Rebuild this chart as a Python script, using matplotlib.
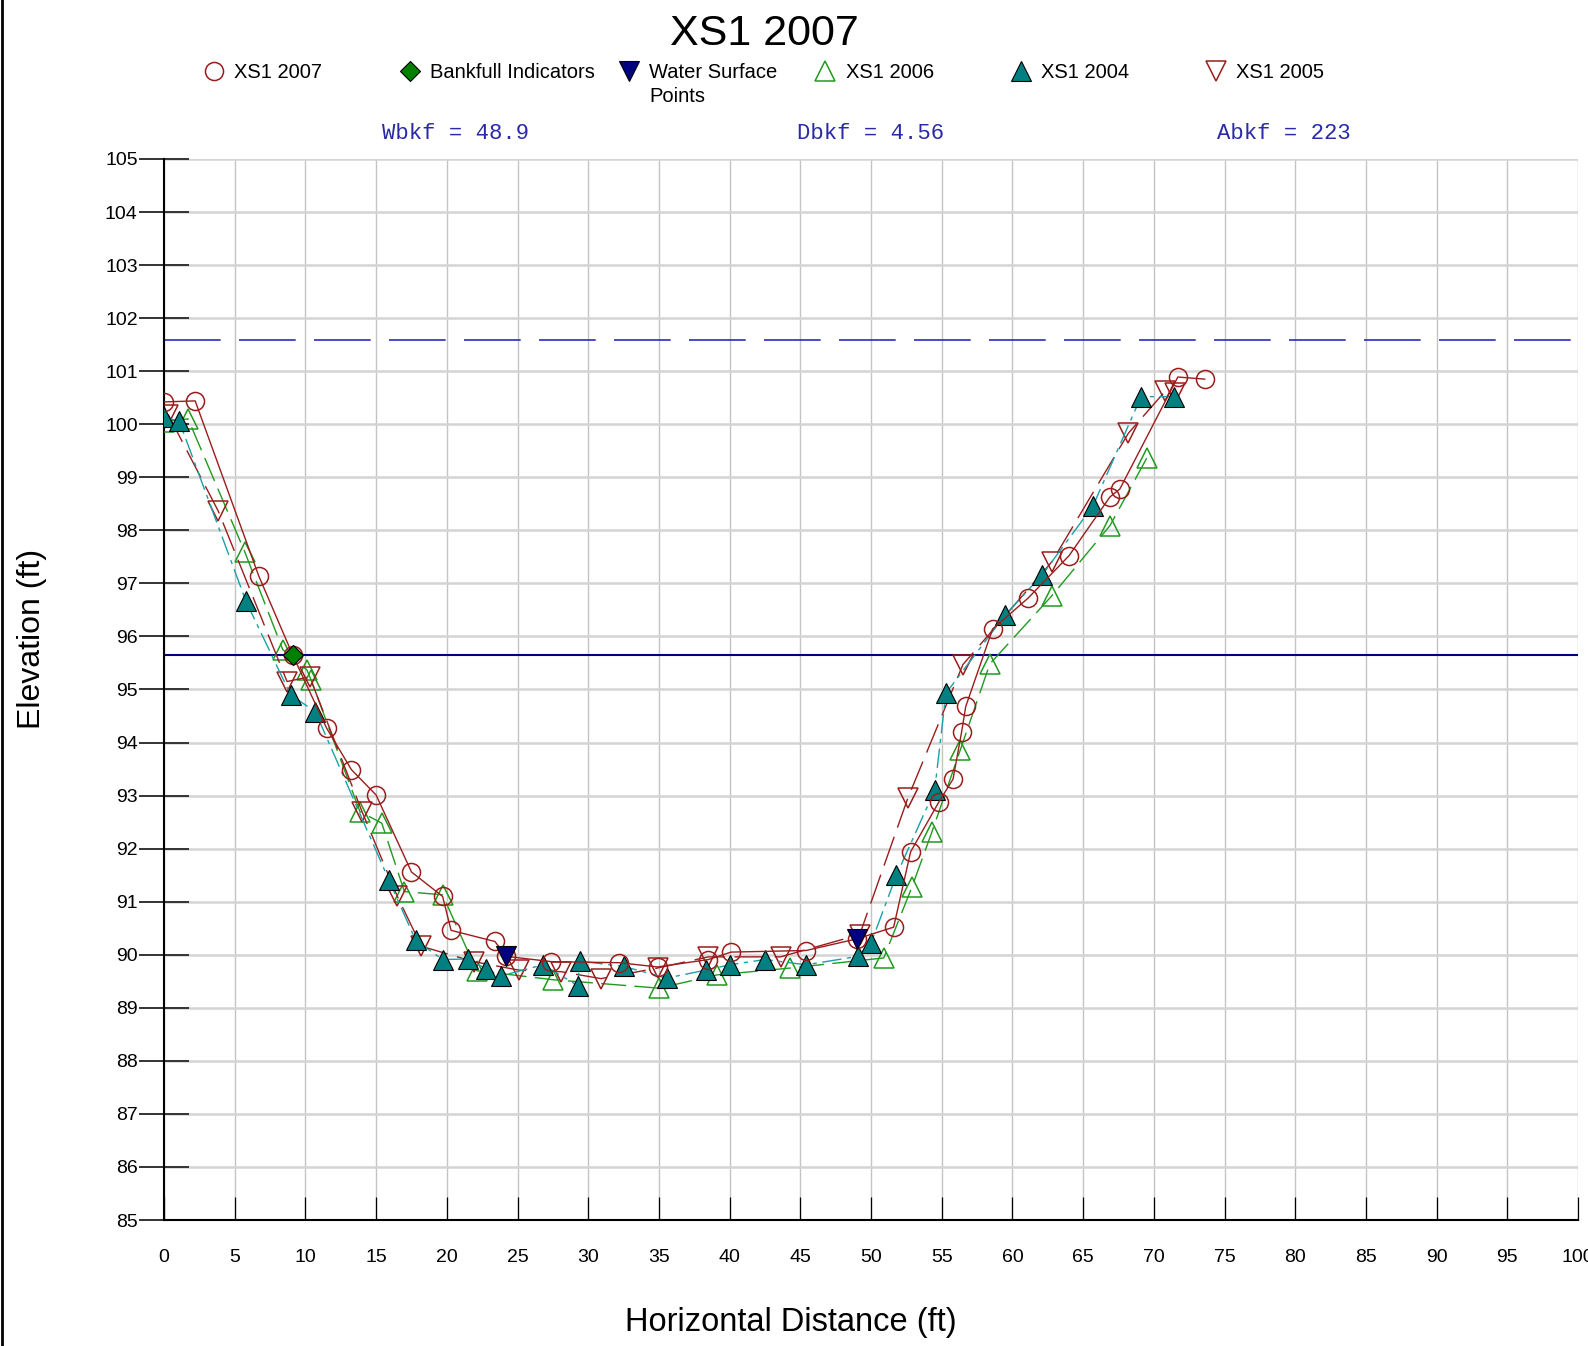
import matplotlib
matplotlib.use("Agg")
from matplotlib import pyplot as plt
from matplotlib.lines import Line2D
import numpy as np

# Cross section survey data (distance ft, elevation ft)

xs2007_x = [0, 2.2, 6.7, 9.1, 11.5, 13.25, 15.0, 17.5, 19.7, 20.3, 23.4, 24.2, 27.4, 32.2,
            34.9, 38.5, 40.1, 45.4, 49.0, 51.6, 52.8, 54.8, 55.8, 56.4, 56.7, 58.6, 61.1,
            64.0, 66.9, 67.6, 71.7, 73.6]
xs2007_y = [100.42, 100.44, 97.14, 95.65, 94.27, 93.49, 93.01, 91.56, 91.1, 90.46, 90.25,
            89.97, 89.87, 89.85, 89.77, 89.91, 90.05, 90.08, 90.30, 90.52, 91.94, 92.88,
            93.31, 94.19, 94.68, 96.14, 96.72, 97.52, 98.63, 98.78, 100.89, 100.85]

xs2006_x = [0, 1.7, 5.7, 8.4, 10.1, 10.4, 13.85, 15.4, 17.0, 19.7, 22.1, 27.5, 35.0, 39.1,
            44.3, 50.9, 52.9, 54.3, 56.3, 58.4, 62.8, 66.9, 69.5]
xs2006_y = [100.05, 100.1, 97.6, 95.75, 95.37, 95.18, 92.70, 92.48, 91.19, 91.13, 89.70,
            89.53, 89.37, 89.62, 89.75, 89.94, 91.28, 92.31, 93.85, 95.48, 96.77, 98.09, 99.36]

xs2004_x = [0, 1.07, 5.8, 8.95, 10.7, 15.9, 17.8, 19.7, 21.5, 22.8, 23.8, 26.8, 29.25, 29.4,
            32.5, 35.55, 38.3, 40.0, 42.5, 45.4, 49.1, 50.0, 51.8, 54.5, 55.3, 59.5, 62.1,
            65.7, 69.1, 71.4]
xs2004_y = [100.13, 100.06, 96.66, 94.9, 94.58, 91.41, 90.27, 89.91, 89.92, 89.73, 89.60,
            89.81, 89.42, 89.88, 89.78, 89.56, 89.71, 89.81, 89.91, 89.81, 89.97, 90.22,
            91.5, 93.1, 94.93, 96.41, 97.16, 98.46, 100.52, 100.52]

xs2005_x = [0.3, 3.84, 8.7, 10.3, 14.0, 16.5, 18.2, 21.9, 25.1, 28.1, 30.9, 34.9, 38.5, 43.6,
            49.2, 52.6, 56.5, 62.8, 68.2, 70.8, 71.5]
xs2005_y = [100.18, 98.36, 95.15, 95.24, 92.70, 91.10, 90.16, 89.87, 89.71, 89.68, 89.55,
            89.75, 89.96, 89.96, 90.38, 92.95, 95.47, 97.41, 99.83, 100.62, 100.58]

bankfull_x = [9.1]
bankfull_y = [95.65]

water_x = [24.2, 49.0]
water_y = [89.98, 90.29]

bankfull_elev = 95.65
flood_elev = 101.58

labels = ["XS1 2007", "Bankfull Indicators", "Water Surface", "XS1 2006", "XS1 2004", "XS1 2005"]
stats = ["Wbkf = 48.9", "Dbkf = 4.56", "Abkf = 223"]

plt.rcParams['font.family'] = ['Liberation Sans', 'DejaVu Sans']

fig = plt.figure(figsize=(15.88, 13.46), dpi=100)
ax = fig.add_axes([0.1033, 0.0936, 0.8904, 0.7883])

# reference lines
ax.axhline(flood_elev, color='#2b2bc0', lw=1.2, dashes=(34, 11), zorder=2)
ax.axhline(bankfull_elev, color='#000080', lw=1.5, zorder=2)

red = '#9b1c1c'
green = '#1f9a1f'
teal = '#008080'

l2004, = ax.plot(xs2004_x, xs2004_y, color='#1aa0a8', lw=1.0, dashes=(14, 4, 3, 4),
                 marker='^', ms=14, mfc=teal, mec='black', mew=0.8, zorder=4)
l2006, = ax.plot(xs2006_x, xs2006_y, color=green, lw=1.0, dashes=(18, 6),
                 marker='^', ms=14, mfc='none', mec=green, mew=1.1, zorder=3)
l2005, = ax.plot(xs2005_x, xs2005_y, color=red, lw=1.0, dashes=(22, 7),
                 marker='v', ms=14, mfc='none', mec=red, mew=1.1, zorder=3)
l2007, = ax.plot(xs2007_x, xs2007_y, color=red, lw=1.0,
                 marker='o', ms=13, mfc='none', mec=red, mew=1.1, zorder=5)
lbank, = ax.plot(bankfull_x, bankfull_y, ls='none', marker='D', ms=10,
                 mfc='#008000', mec='black', mew=0.8, zorder=6)
lwater, = ax.plot(water_x, water_y, ls='none', marker='v', ms=14,
                  mfc='#000080', mec='black', mew=0.8, zorder=6)

ax.set_xlim(0, 100)
ax.set_ylim(85, 105)
ax.set_xticks(np.arange(0, 101, 5))
ax.set_yticks(np.arange(85, 106, 1))

ax.grid(axis='y', color='#d4d4d4', lw=1.8, zorder=0)
ax.grid(axis='x', color='#c4c4c4', lw=1.0, zorder=0)
ax.set_axisbelow(True)

for s in ['top', 'right']:
    ax.spines[s].set_visible(False)
for s in ['left', 'bottom']:
    ax.spines[s].set_color('black')
    ax.spines[s].set_linewidth(1.5)

ax.tick_params(axis='y', direction='inout', length=36, width=1.4, color='#333333',
               pad=1, labelsize=14)
ax.tick_params(axis='x', direction='in', length=16.5, width=0.9, color='black',
               pad=21, labelsize=14)

fig.text(0.0204, 0.5253, 'Elevation (ft)', rotation=90, ha='center', va='center', fontsize=23)
fig.text(0.498, 0.0173, 'Horizontal Distance (ft)', ha='center', va='center', fontsize=23.5)
fig.text(0.4813, 0.975, 'XS1 2007', ha='center', va='center', fontsize=31)

# bankfull stats
stat_x = [455.7, 871, 1284]
for sx, st in zip(stat_x, stats):
    fig.text(sx / 1588, 0.9005, st, ha='center', va='center', fontsize=16,
             family='Liberation Mono', color='#2a2aa8')

# legend entries, one per slot (marker only, no line)
handles = []
for h in [l2007, lbank, lwater, l2006, l2004, l2005]:
    handles.append(Line2D([], [], ls='none', marker=h.get_marker(), ms=h.get_markersize(),
                          mfc=h.get_markerfacecolor(), mec=h.get_markeredgecolor(),
                          mew=h.get_markeredgewidth()))
marker_px = [213.7, 410.2, 629, 825.4, 1020.9, 1216.3]
fs = 14.5
fs_px = fs * 100 / 72
for h, lab, mx in zip(handles, labels, marker_px):
    fig.legend([h], [lab], loc='center left', bbox_to_anchor=((mx - fs_px / 2) / 1588, 0.946),
               frameon=False, fontsize=fs, handlelength=1, handletextpad=0.5,
               borderpad=0, borderaxespad=0)
fig.text((629 + fs_px / 2 + fs_px * 0.5) / 1588, 1 - 96 / 1346, 'Points',
         ha='left', va='center', fontsize=fs)

fig.add_artist(Line2D([0.001, 0.001], [0, 1], color='black', lw=2))

fig.savefig('out.png', dpi=100)
